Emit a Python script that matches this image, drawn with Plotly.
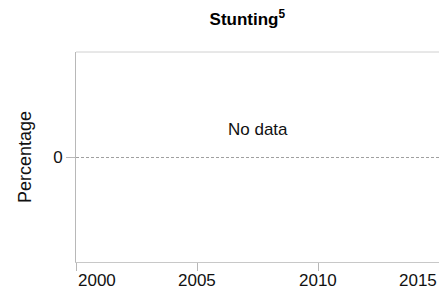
import plotly.graph_objects as go

title_text = "Stunting<sup>5</sup>"
y_label = "Percentage"
x_tick_values = [2000, 2005, 2010, 2015]
x_tick_labels = ["2000", "2005", "2010", "2015"]
y_tick_values = [0]
y_tick_labels = ["0"]
note_text = "No data"

FONT = "Liberation Sans, Arial, sans-serif"
AXIS = "#b8b8b8"
TXT = "#111111"
FS = 17

fig = go.Figure()
fig.add_trace(go.Scatter(x=[2000, 2015], y=[0, 0], mode="lines",
                         line=dict(color="rgba(0,0,0,0)"), hoverinfo="skip",
                         showlegend=False))

fig.update_layout(
    width=439, height=291,
    margin=dict(l=76, r=0, t=52, b=29),
    paper_bgcolor="white", plot_bgcolor="white",
    font=dict(family=FONT, size=FS, color=TXT),
    title=dict(text="<b>" + title_text + "</b>", x=0.472, xref="paper", xanchor="center",
               y=1 - 19 / 291, yanchor="middle", font=dict(size=FS, color="#000")),
    showlegend=False,
)

fig.update_xaxes(
    range=[x_tick_values[0], x_tick_values[-1]],
    tickvals=x_tick_values, ticktext=x_tick_labels, showticklabels=False,
    ticks="outside", ticklen=8, tickcolor=AXIS, tickwidth=1,
    showline=True, linecolor="#c8c8c8", linewidth=1,
    showgrid=False, zeroline=False,
)
fig.update_yaxes(
    range=[-1, 1],
    tickvals=y_tick_values, ticktext=y_tick_labels,
    ticks="outside", ticklen=9, tickcolor=AXIS, tickwidth=1,
    tickfont=dict(size=FS, color=TXT),
    showline=True, linecolor=AXIS, linewidth=1,
    showgrid=True, gridcolor="#a0a0a0", griddash="3px,2px", gridwidth=1,
    zeroline=False,
    title=dict(text=y_label, font=dict(size=18, color=TXT), standoff=16),
)

# top border
fig.add_shape(type="line", xref="paper", yref="paper", x0=0, x1=1, y0=1, y1=1,
              line=dict(color="#d0d0d0", width=1))

# x tick labels (end labels kept inside the canvas)
n = len(x_tick_values)
for i, (v, t) in enumerate(zip(x_tick_values, x_tick_labels)):
    anchor = "left" if i == 0 else ("right" if i == n - 1 else "center")
    fig.add_annotation(x=v, y=0, xref="x", yref="paper", text=t, showarrow=False,
                       xanchor=anchor, yanchor="top", yshift=-7,
                       font=dict(size=FS, color=TXT))

fig.add_annotation(x=0.5, y=0.63, xref="paper", yref="paper", text=note_text,
                   showarrow=False, font=dict(size=FS, color=TXT))

fig.write_html("out.html", config={"displayModeBar": False},
               post_script="document.body.style.margin='0';document.body.style.overflow='hidden';")
